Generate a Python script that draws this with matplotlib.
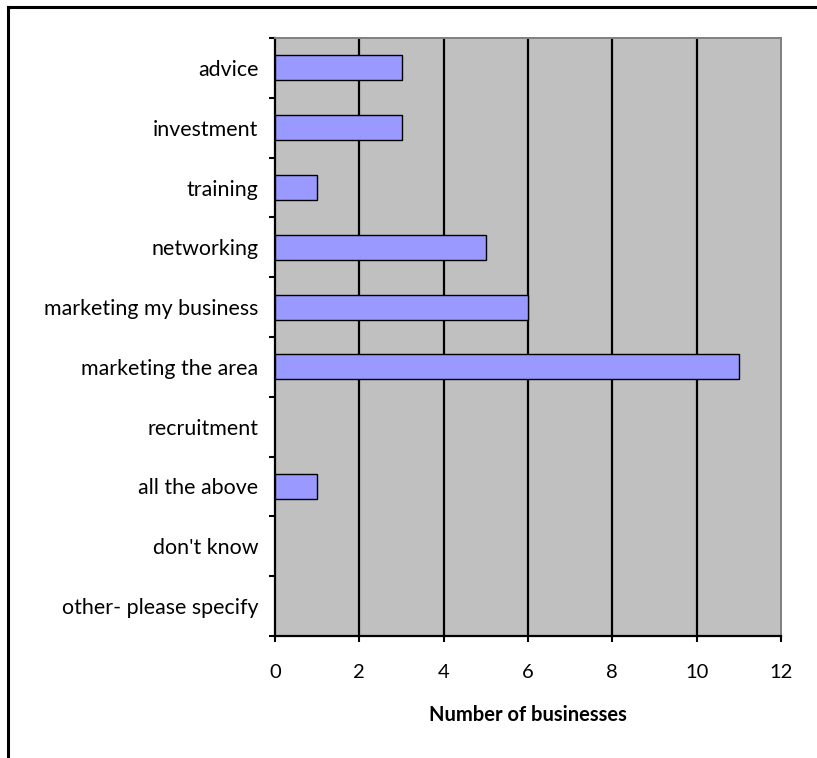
import numpy as np
import matplotlib.pyplot as plt
from matplotlib.lines import Line2D

categories = ["advice", "investment", "training", "networking",
              "marketing my business", "marketing the area", "recruitment",
              "all the above", "don't know", "other- please specify"]
counts = [3, 3, 1, 5, 6, 11, 0, 1, 0, 0]
x_ticks = [0, 2, 4, 6, 8, 10, 12]

plt.rcParams['font.family'] = ['Lato', 'DejaVu Sans']

W, H = 817, 758
fig = plt.figure(figsize=(W / 100, H / 100), dpi=100)
ax = fig.add_axes([275 / W, 1 - 636 / H, (781 - 275) / W, (636 - 38) / H])
ax.set_facecolor('#C0C0C0')

n = len(categories)
y = np.arange(n)
nonzero = [i for i, v in enumerate(counts) if v > 0]
ax.barh([y[i] for i in nonzero], [counts[i] for i in nonzero], height=0.42,
        color='#9999FF', edgecolor='black', linewidth=1.0, zorder=3)

ax.set_xlim(0, 12)
ax.set_ylim(n - 0.5, -0.5)
ax.set_xticks(x_ticks)
ax.set_xticklabels([str(t) for t in x_ticks], fontsize=14.5)
for t in x_ticks[1:-1]:
    ax.axvline(t, color='black', linewidth=1.6, zorder=2)

# category labels sit between boundary ticks
ax.set_yticks(y)
ax.set_yticklabels(categories, fontsize=15.4)
ax.tick_params(axis='y', length=0, pad=12)
ax.set_yticks(np.arange(n + 1) - 0.5, minor=True)
ax.tick_params(axis='y', which='minor', length=4, width=1.5, color='black')
ax.tick_params(axis='x', length=4, width=1.5, pad=16.5, direction='out')

for side in ['left', 'bottom']:
    ax.spines[side].set_color('black')
    ax.spines[side].set_linewidth(1.6)
for side in ['top', 'right']:
    ax.spines[side].set_color('#808080')
    ax.spines[side].set_linewidth(1.4)

ax.set_xlabel('Number of businesses', fontsize=14.5, fontweight='bold', labelpad=17)

# chart border
fig.add_artist(Line2D([8 / W, 1.0], [1 - 7 / H, 1 - 7 / H], color='black',
                      linewidth=2.2, transform=fig.transFigure))
fig.add_artist(Line2D([8 / W, 8 / W], [1 - 7 / H, 0.0], color='black',
                      linewidth=2.2, transform=fig.transFigure))

fig.savefig('out.png', dpi=100, facecolor='white')
